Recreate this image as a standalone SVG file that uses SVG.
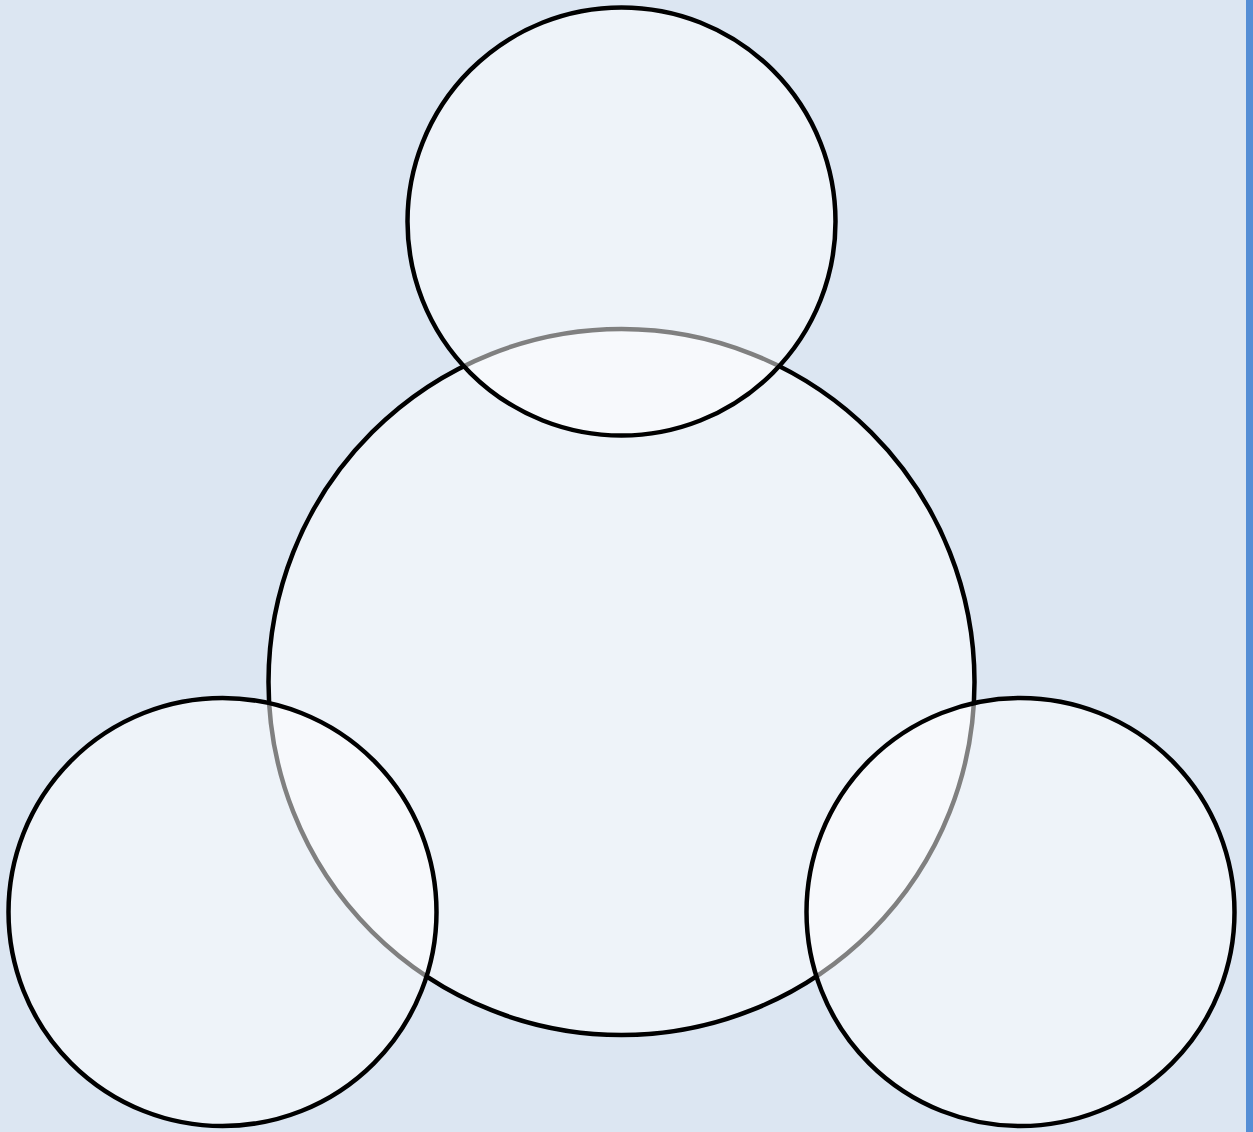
<svg xmlns="http://www.w3.org/2000/svg" width="1253" height="1132" viewBox="0 0 1253 1132">
<style>
.c{fill:#ffffff;fill-opacity:0.5;stroke:#000000;stroke-width:4.5}
</style>
<rect x="0" y="0" width="1253" height="1132" fill="#dce6f2"/>
<rect x="1246" y="0" width="7" height="1132" fill="#558ed5"/>
<g id="center"><circle class="c" cx="621.5" cy="682" r="353"/></g>
<g id="top"><circle class="c" cx="621.5" cy="221.5" r="214"/></g>
<g id="bottom-left"><circle class="c" cx="222.5" cy="912" r="214"/></g>
<g id="bottom-right"><circle class="c" cx="1020.5" cy="912" r="214"/></g>
<g id="connectors"></g>
</svg>
